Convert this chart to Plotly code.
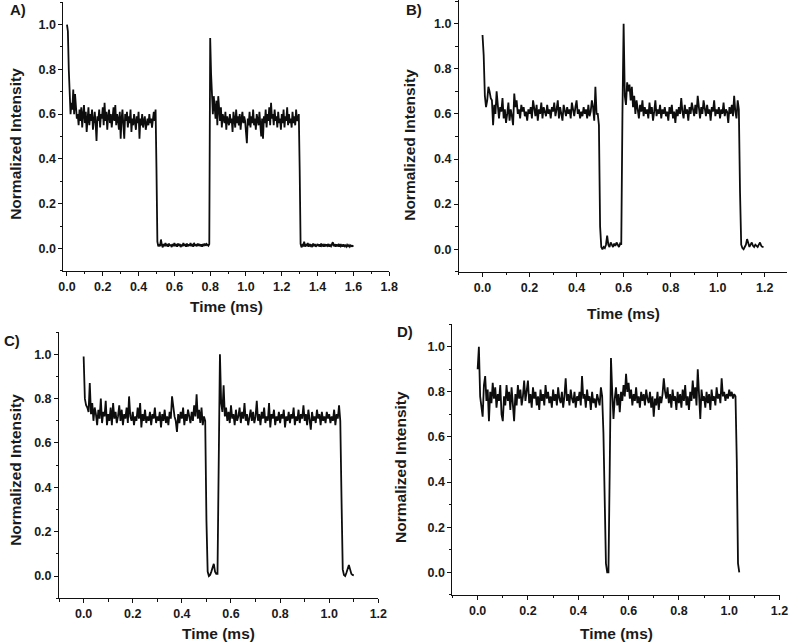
import plotly.graph_objects as go

# ---------------- data ----------------
DT = 0.005  # sampling interval of the traces (ms)

panel_labels = ["A)", "B)", "C)", "D)"]
x_title = "Time (ms)"
y_title = "Normalized Intensity"
y_tick_vals = [0.0, 0.2, 0.4, 0.6, 0.8, 1.0]
x_ticks_A = [0.0, 0.2, 0.4, 0.6, 0.8, 1.0, 1.2, 1.4, 1.6, 1.8]
x_ticks_BCD = [0.0, 0.2, 0.4, 0.6, 0.8, 1.0, 1.2]

intensity_A = [
    1.00, 0.97, 0.80, 0.66, 0.60, 0.65, 0.62, 0.71, 0.60, 0.69, 0.61, 0.58, 0.60, 0.55, 0.62, 0.57, 0.63, 0.54, 0.60, 0.64,
    0.56, 0.61, 0.52, 0.59, 0.63, 0.55, 0.60, 0.57, 0.62, 0.53, 0.58, 0.61, 0.56, 0.48, 0.59, 0.57, 0.62, 0.54, 0.60, 0.58,
    0.63, 0.55, 0.65, 0.57, 0.61, 0.53, 0.59, 0.62, 0.56, 0.60, 0.54, 0.58, 0.63, 0.57, 0.64, 0.55, 0.60, 0.58, 0.53, 0.61,
    0.49, 0.58, 0.62, 0.55, 0.49, 0.60, 0.57, 0.61, 0.54, 0.59, 0.56, 0.62, 0.52, 0.58, 0.55, 0.60, 0.57, 0.53, 0.59, 0.56,
    0.61, 0.49, 0.58, 0.55, 0.60, 0.54, 0.57, 0.59, 0.53, 0.56, 0.58, 0.55, 0.60, 0.56, 0.58, 0.54, 0.59, 0.61, 0.57, 0.62,
    0.35, 0.03, 0.01, 0.015, 0.01, 0.04, 0.015, 0.005, 0.02, 0.01, 0.025, 0.01, 0.02, 0.008, 0.022, 0.012, 0.018, 0.006, 0.02, 0.01,
    0.025, 0.01, 0.02, 0.008, 0.022, 0.012, 0.02, 0.006, 0.018, 0.01, 0.024, 0.012, 0.02, 0.008, 0.022, 0.01, 0.018, 0.012, 0.024, 0.01,
    0.02, 0.008, 0.025, 0.012, 0.018, 0.01, 0.022, 0.012, 0.02, 0.01, 0.018, 0.008, 0.02, 0.014, 0.022, 0.012, 0.02, 0.015, 0.012, 0.02,
    0.94, 0.78, 0.66, 0.60, 0.68, 0.62, 0.58, 0.66, 0.55, 0.68, 0.61, 0.57, 0.63, 0.54, 0.60, 0.58, 0.56, 0.61, 0.53, 0.59,
    0.57, 0.55, 0.60, 0.56, 0.58, 0.52, 0.61, 0.57, 0.54, 0.62, 0.56, 0.59, 0.55, 0.60, 0.53, 0.58, 0.61, 0.56, 0.59, 0.57,
    0.52, 0.47, 0.58, 0.55, 0.61, 0.54, 0.59, 0.56, 0.62, 0.55, 0.58, 0.53, 0.60, 0.57, 0.55, 0.61, 0.56, 0.50, 0.58, 0.49,
    0.59, 0.56, 0.62, 0.54, 0.60, 0.57, 0.63, 0.55, 0.65, 0.58, 0.60, 0.55, 0.62, 0.57, 0.59, 0.54, 0.61, 0.56, 0.58, 0.53,
    0.60, 0.56, 0.62, 0.54, 0.59, 0.57, 0.63, 0.55, 0.60, 0.56, 0.58, 0.54, 0.61, 0.56, 0.59, 0.55, 0.62, 0.57, 0.58, 0.60,
    0.35, 0.02, 0.005, 0.015, 0.01, 0.03, 0.008, 0.02, 0.01, 0.025, 0.008, 0.02, 0.012, 0.018, 0.006, 0.022, 0.01, 0.02, 0.008, 0.015,
    0.02, 0.01, 0.018, 0.008, 0.022, 0.012, 0.016, 0.008, 0.02, 0.01, 0.018, 0.012, 0.02, 0.008, 0.015, 0.01, 0.018, 0.028, 0.01, 0.02,
    0.008, 0.018, 0.01, 0.016, 0.008, 0.02, 0.01, 0.015, 0.008, 0.018, 0.01, 0.014, 0.008, 0.016, 0.01, 0.015, 0.008, 0.014, 0.01, 0.012,
    0.008,
]

intensity_B = [
    0.95, 0.86, 0.68, 0.63, 0.66, 0.72, 0.70, 0.67, 0.66, 0.55, 0.64, 0.60, 0.70, 0.62, 0.58, 0.63, 0.61, 0.67, 0.58, 0.62,
    0.56, 0.60, 0.65, 0.57, 0.62, 0.59, 0.55, 0.69, 0.63, 0.66, 0.60, 0.62, 0.58, 0.64, 0.61, 0.63, 0.59, 0.61, 0.57, 0.62,
    0.60, 0.63, 0.58, 0.66, 0.61, 0.59, 0.64, 0.57, 0.62, 0.60, 0.65, 0.58, 0.63, 0.61, 0.59, 0.64, 0.60, 0.62, 0.58, 0.63,
    0.61, 0.65, 0.59, 0.62, 0.66, 0.58, 0.63, 0.60, 0.57, 0.64, 0.61, 0.59, 0.63, 0.60, 0.62, 0.58, 0.65, 0.61, 0.59, 0.63,
    0.66, 0.60, 0.62, 0.58, 0.61, 0.59, 0.63, 0.60, 0.62, 0.58, 0.64, 0.59, 0.61, 0.66, 0.63, 0.57, 0.72, 0.60, 0.60, 0.55,
    0.10, 0.01, 0.00, 0.01, 0.005, 0.02, 0.06, 0.02, 0.01, 0.03, 0.02, 0.01, 0.025, 0.015, 0.03, 0.02, 0.01, 0.025, 0.02, 0.60,
    1.00, 0.68, 0.64, 0.74, 0.70, 0.73, 0.66, 0.72, 0.63, 0.68, 0.60, 0.66, 0.62, 0.58, 0.64, 0.61, 0.66, 0.59, 0.63, 0.60,
    0.62, 0.58, 0.65, 0.60, 0.63, 0.57, 0.61, 0.66, 0.59, 0.62, 0.60, 0.64, 0.58, 0.62, 0.60, 0.63, 0.59, 0.61, 0.57, 0.63,
    0.60, 0.64, 0.58, 0.61, 0.56, 0.62, 0.59, 0.63, 0.60, 0.67, 0.61, 0.58, 0.64, 0.60, 0.62, 0.57, 0.63, 0.60, 0.65, 0.61,
    0.59, 0.64, 0.60, 0.68, 0.62, 0.58, 0.63, 0.60, 0.66, 0.61, 0.59, 0.64, 0.60, 0.62, 0.57, 0.63, 0.61, 0.66, 0.59, 0.62,
    0.60, 0.63, 0.58, 0.62, 0.60, 0.65, 0.59, 0.62, 0.61, 0.56, 0.63, 0.60, 0.64, 0.59, 0.68, 0.61, 0.58, 0.66, 0.62, 0.25,
    0.02, 0.005, 0.00, 0.01, 0.02, 0.045, 0.02, 0.01, 0.02, 0.03, 0.015, 0.01, 0.02, 0.015, 0.01, 0.02, 0.03, 0.015, 0.01, 0.01,
]

intensity_C = [
    0.99, 0.80, 0.77, 0.76, 0.74, 0.87, 0.73, 0.78, 0.70, 0.76, 0.73, 0.68, 0.75, 0.71, 0.80, 0.69, 0.74, 0.72, 0.79, 0.68,
    0.73, 0.70, 0.76, 0.68, 0.78, 0.71, 0.74, 0.69, 0.72, 0.77, 0.70, 0.75, 0.68, 0.73, 0.71, 0.76, 0.69, 0.81, 0.72, 0.70,
    0.74, 0.68, 0.72, 0.70, 0.76, 0.71, 0.78, 0.67, 0.73, 0.70, 0.75, 0.69, 0.72, 0.70, 0.74, 0.68, 0.73, 0.71, 0.76, 0.69,
    0.72, 0.70, 0.74, 0.67, 0.73, 0.70, 0.75, 0.69, 0.72, 0.68, 0.74, 0.71, 0.81, 0.76, 0.72, 0.70, 0.65, 0.73, 0.69, 0.74,
    0.71, 0.76, 0.68, 0.73, 0.70, 0.75, 0.72, 0.69, 0.74, 0.70, 0.77, 0.72, 0.82, 0.71, 0.75, 0.69, 0.76, 0.68, 0.72, 0.70,
    0.25, 0.02, 0.00, 0.005, 0.02, 0.04, 0.055, 0.02, 0.01, 0.01, 0.70, 1.00, 0.78, 0.74, 0.86, 0.72, 0.76, 0.70, 0.74, 0.69,
    0.77, 0.71, 0.73, 0.68, 0.75, 0.70, 0.72, 0.76, 0.69, 0.74, 0.71, 0.78, 0.70, 0.73, 0.68, 0.72, 0.75, 0.70, 0.74, 0.69,
    0.72, 0.79, 0.70, 0.73, 0.68, 0.74, 0.71, 0.76, 0.69, 0.72, 0.70, 0.78, 0.67, 0.73, 0.71, 0.75, 0.68, 0.72, 0.70, 0.74,
    0.69, 0.73, 0.71, 0.75, 0.67, 0.72, 0.70, 0.74, 0.69, 0.73, 0.71, 0.76, 0.68, 0.72, 0.70, 0.75, 0.69, 0.73, 0.71, 0.77,
    0.70, 0.73, 0.68, 0.75, 0.71, 0.66, 0.74, 0.70, 0.72, 0.69, 0.75, 0.71, 0.73, 0.68, 0.74, 0.70, 0.72, 0.69, 0.74, 0.71,
    0.73, 0.69, 0.72, 0.70, 0.75, 0.68, 0.73, 0.71, 0.77, 0.70, 0.35, 0.03, 0.005, 0.00, 0.015, 0.035, 0.05, 0.03, 0.01, 0.005,
    0.003,
]

intensity_D = [
    0.90, 1.00, 0.78, 0.72, 0.69, 0.83, 0.87, 0.76, 0.81, 0.67, 0.80, 0.75, 0.84, 0.77, 0.82, 0.73, 0.79, 0.76, 0.83, 0.70,
    0.67, 0.78, 0.74, 0.83, 0.76, 0.80, 0.72, 0.82, 0.75, 0.67, 0.79, 0.74, 0.83, 0.77, 0.81, 0.74, 0.78, 0.85, 0.76, 0.80,
    0.85, 0.75, 0.79, 0.73, 0.82, 0.77, 0.80, 0.74, 0.78, 0.72, 0.81, 0.76, 0.79, 0.74, 0.83, 0.77, 0.80, 0.75, 0.78, 0.73,
    0.81, 0.76, 0.79, 0.74, 0.82, 0.77, 0.75, 0.80, 0.73, 0.78, 0.86, 0.76, 0.79, 0.74, 0.81, 0.77, 0.75, 0.80, 0.73, 0.78,
    0.76, 0.80, 0.74, 0.87, 0.77, 0.79, 0.73, 0.81, 0.76, 0.78, 0.72, 0.80, 0.75, 0.77, 0.73, 0.79, 0.76, 0.74, 0.82, 0.78,
    0.62, 0.25, 0.04, 0.00, 0.00, 0.45, 0.95, 0.80, 0.68, 0.77, 0.82, 0.74, 0.79, 0.71, 0.80, 0.76, 0.83, 0.78, 0.88, 0.80,
    0.84, 0.77, 0.81, 0.74, 0.79, 0.76, 0.82, 0.75, 0.78, 0.73, 0.80, 0.76, 0.79, 0.74, 0.81, 0.77, 0.75, 0.80, 0.73, 0.78,
    0.69, 0.77, 0.74, 0.80, 0.72, 0.78, 0.75, 0.79, 0.86, 0.80, 0.77, 0.82, 0.75, 0.79, 0.73, 0.81, 0.76, 0.78, 0.72, 0.80,
    0.75, 0.79, 0.73, 0.81, 0.76, 0.83, 0.74, 0.78, 0.72, 0.80, 0.76, 0.85, 0.77, 0.82, 0.74, 0.90, 0.79, 0.68, 0.81, 0.76,
    0.78, 0.73, 0.80, 0.75, 0.79, 0.72, 0.81, 0.76, 0.78, 0.74, 0.82, 0.77, 0.79, 0.75, 0.86, 0.78, 0.80, 0.76, 0.79, 0.77,
    0.81, 0.78, 0.80, 0.77, 0.79, 0.78, 0.50, 0.04, 0.00,
]

series = [intensity_A, intensity_B, intensity_C, intensity_D]

# ---------------- layout (pixel-derived placement) ----------------
W, H = 800, 644
FONT = "Liberation Sans"
panels = [
    dict(xd=[0.0743, 0.4888], yd=[0.5794, 0.9967], xr=[-0.02, 1.8], yr=[-0.1, 1.1], xt=x_ticks_A),
    dict(xd=[0.5776, 0.9950], yd=[0.5780, 1.0000], xr=[-0.1, 1.295], yr=[-0.1, 1.105], xt=x_ticks_BCD),
    dict(xd=[0.0688, 0.4750], yd=[0.0711, 0.4843], xr=[-0.1, 1.2], yr=[-0.1, 1.1], xt=x_ticks_BCD),
    dict(xd=[0.5693, 0.9854], yd=[0.0762, 0.4967], xr=[-0.1, 1.2], yr=[-0.1, 1.1], xt=x_ticks_BCD),
]

fig = go.Figure()
layout = dict(
    width=W, height=H, autosize=False,
    margin=dict(l=0, r=0, t=0, b=0),
    paper_bgcolor="white", plot_bgcolor="white",
    showlegend=False,
    font=dict(family=FONT, color="#1a1a1a"),
)

tickfont = dict(family=FONT, size=12.5, color="#1a1a1a", weight="bold")

for i, (p, y) in enumerate(zip(panels, series)):
    n = "" if i == 0 else str(i + 1)
    t = [round(k * DT, 4) for k in range(len(y))]
    fig.add_trace(go.Scatter(
        x=t, y=y, mode="lines",
        line=dict(color="#0d0d0d", width=1.8),
        xaxis="x" + n, yaxis="y" + n, hoverinfo="skip",
    ))
    layout["xaxis" + n] = dict(
        domain=p["xd"], anchor="y" + n, range=p["xr"],
        showline=True, linecolor="#111111", linewidth=1,
        showgrid=False, zeroline=False,
        ticks="outside", ticklen=4, tickwidth=1, tickcolor="#111111",
        tickvals=p["xt"], ticktext=[f"{v:.1f}" for v in p["xt"]],
        tickfont=tickfont,
        minor=dict(ticks="outside", ticklen=2.5, tickwidth=1, tickcolor="#111111", dtick=0.1, tick0=0, showgrid=False),
    )
    layout["yaxis" + n] = dict(
        domain=p["yd"], anchor="x" + n, range=p["yr"],
        showline=True, linecolor="#111111", linewidth=1,
        showgrid=False, zeroline=False,
        ticks="outside", ticklen=4, tickwidth=1, tickcolor="#111111",
        tickvals=y_tick_vals, ticktext=[f"{v:.1f}" for v in y_tick_vals],
        tickfont=tickfont,
        minor=dict(ticks="outside", ticklen=2.5, tickwidth=1, tickcolor="#111111", dtick=0.1, tick0=0, showgrid=False),
    )

fig.update_layout(**layout)

title_font = dict(family=FONT, size=15.5, color="#1a1a1a", weight="bold")
label_font = dict(family=FONT, size=15, color="#1a1a1a", weight="bold")

x_title_pos = [(225, 307), (630, 313), (217, 633), (622, 633)]
y_title_pos = [(10, 144), (412, 145), (10, 470), (403, 467)]
letter_pos = [(13, 10), (416, 10), (7, 340), (407, 331)]

for i in range(4):
    xp, yp = x_title_pos[i]
    fig.add_annotation(text=x_title, x=xp / W, y=1 - yp / H, xref="paper", yref="paper",
                       showarrow=False, font=title_font, xanchor="center", yanchor="middle")
    xp, yp = y_title_pos[i]
    fig.add_annotation(text=y_title, x=xp / W, y=1 - yp / H, xref="paper", yref="paper",
                       showarrow=False, font=title_font, textangle=-90, xanchor="center", yanchor="middle")
    xp, yp = letter_pos[i]
    fig.add_annotation(text=panel_labels[i], x=xp / W, y=1 - yp / H, xref="paper", yref="paper",
                       showarrow=False, font=label_font, xanchor="center", yanchor="middle")

fig.write_html(
    "out.html",
    config={"displayModeBar": False},
    post_script="document.body.style.margin='0px';document.body.style.overflow='hidden';",
)
